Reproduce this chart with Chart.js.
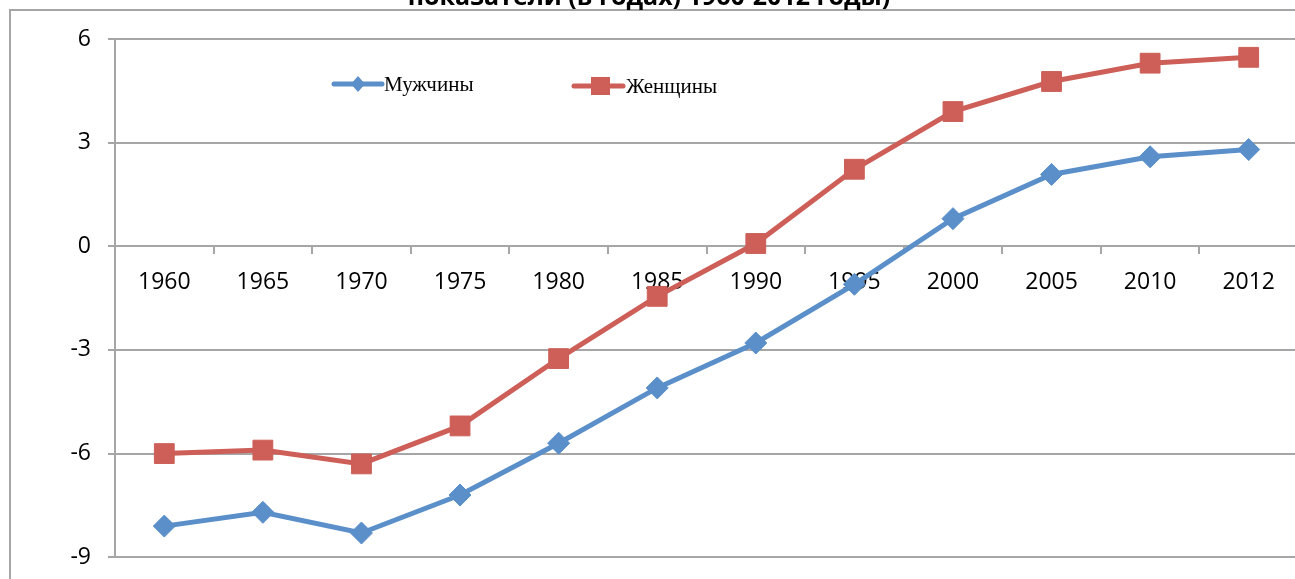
<!DOCTYPE html>
<html>
<head>
<meta charset="utf-8">
<script src="https://cdn.jsdelivr.net/npm/chart.js@4/dist/chart.umd.min.js"></script>
<style>
  html, body { margin: 0; padding: 0; background: #fff; overflow: hidden; }
  #wrap { position: relative; width: 1295px; height: 579px; overflow: hidden; }
</style>
</head>
<body>
<div id="wrap"><canvas id="myChart" width="1313" height="588"></canvas></div>
<script>
'use strict';

let titleText = 'показатели (в годах) 1960-2012 годы)';
let years = ['1960', '1965', '1970', '1975', '1980', '1985', '1990', '1995', '2000', '2005', '2010', '2012'];
let menLabel = 'Мужчины';
let womenLabel = 'Женщины';
let menValues = [-8.1, -7.7, -8.3, -7.2, -5.7, -4.1, -2.8, -1.1, 0.8, 2.08, 2.59, 2.8];
let womenValues = [-6.0, -5.9, -6.3, -5.2, -3.25, -1.45, 0.08, 2.23, 3.9, 4.77, 5.3, 5.47];
let yTicks = [6, 3, 0, -3, -6, -9];

let blue = '#5a8fc9';
let red = '#cd5f58';
let gridColor = '#a6a6a6';

// frame + cut off title + legend inside the plot
let decorPlugin = {
    id: 'decor',
    beforeDraw(chart) {
        let ctx = chart.ctx;
        ctx.save();
        ctx.strokeStyle = gridColor;
        ctx.lineWidth = 2;
        ctx.beginPath();
        ctx.moveTo(10, 600);
        ctx.lineTo(10, 10);
        ctx.lineTo(1320, 10);
        ctx.stroke();
        ctx.fillStyle = '#000';
        ctx.font = 'bold 25px "Open Sans"';
        ctx.textAlign = 'center';
        ctx.textBaseline = 'alphabetic';
        ctx.fillText(titleText, 649, 5);
        ctx.restore();
    },
    afterDraw(chart) {
        let ctx = chart.ctx;
        ctx.save();
        ctx.lineWidth = 5;
        ctx.lineCap = 'round';
        ctx.font = '21px "Liberation Serif"';
        ctx.textBaseline = 'middle';
        ctx.fillStyle = '#000';

        // men
        ctx.strokeStyle = blue;
        ctx.beginPath();
        ctx.moveTo(334, 84);
        ctx.lineTo(382, 84);
        ctx.stroke();
        ctx.fillStyle = blue;
        ctx.beginPath();
        ctx.moveTo(358, 76);
        ctx.lineTo(365, 84);
        ctx.lineTo(358, 92);
        ctx.lineTo(351, 84);
        ctx.closePath();
        ctx.fill();
        ctx.fillStyle = '#000';
        ctx.fillText(menLabel, 384, 85);

        // women
        ctx.strokeStyle = red;
        ctx.beginPath();
        ctx.moveTo(574, 86);
        ctx.lineTo(623, 86);
        ctx.stroke();
        ctx.fillStyle = red;
        ctx.fillRect(591, 77, 19, 18);
        ctx.fillStyle = '#000';
        ctx.fillText(womenLabel, 626, 87);
        ctx.restore();
    }
};

let ctx = document.getElementById('myChart').getContext('2d');

let chart = new Chart(ctx, {
    type: 'line',
    data: {
        labels: years,
        datasets: [
            {
                label: menLabel,
                data: menValues,
                borderColor: blue,
                backgroundColor: blue,
                borderWidth: 5,
                pointStyle: 'rectRot',
                pointRadius: 11,
                pointBorderWidth: 1,
                tension: 0
            },
            {
                label: womenLabel,
                data: womenValues,
                borderColor: red,
                backgroundColor: red,
                borderWidth: 5,
                pointStyle: 'rect',
                pointRadius: 14,
                pointBorderWidth: 1,
                tension: 0
            }
        ]
    },
    options: {
        responsive: false,
        animation: false,
        layout: { padding: { top: 39, bottom: 15, left: 0, right: 0 } },
        plugins: {
            legend: { display: false },
            title: { display: false },
            tooltip: { enabled: false }
        },
        scales: {
            x: {
                position: { y: 0 },
                offset: true,
                afterFit: function (scale) { scale.height = 0; },
                grid: {
                    offset: true,
                    drawOnChartArea: false,
                    drawTicks: true,
                    tickLength: 7,
                    color: gridColor,
                    lineWidth: 2
                },
                border: { display: true, color: gridColor, width: 2 },
                ticks: {
                    color: '#000',
                    font: { family: 'Open Sans', size: 23 },
                    padding: 15,
                    maxRotation: 0,
                    autoSkip: false
                }
            },
            y: {
                min: -9,
                max: 6,
                afterFit: function (scale) { scale.width = 115; },
                afterBuildTicks: function (scale) {
                    scale.ticks = yTicks.map(v => ({ value: v }));
                },
                grid: {
                    color: gridColor,
                    lineWidth: 2,
                    tickLength: 7
                },
                border: { display: true, color: gridColor, width: 2 },
                ticks: {
                    color: '#000',
                    font: { family: 'Open Sans', size: 23 },
                    padding: 17
                }
            }
        }
    },
    plugins: [decorPlugin]
});
</script>
</body>
</html>
